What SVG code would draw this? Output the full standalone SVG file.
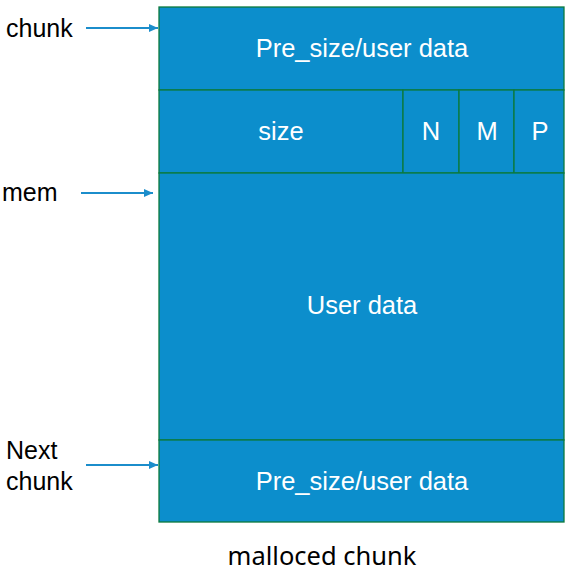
<svg xmlns="http://www.w3.org/2000/svg" width="577" height="572" viewBox="0 0 577 572">
<defs>
<marker id="ah" markerWidth="10" markerHeight="10" refX="9" refY="5" orient="auto" markerUnits="userSpaceOnUse">
<path d="M0,1 L9,5 L0,9 Z" fill="#1B8DCB"/>
</marker>
<style>
.cell{fill:#0C8ECC;stroke:#0B7A3E;stroke-width:1.3}
.in{font-family:"Liberation Sans",Arial,sans-serif;font-size:25.5px;fill:#FFFFFF;text-anchor:middle}
.lbl{font-family:"Liberation Sans",Arial,sans-serif;font-size:25px;fill:#000000}
.arr{stroke:#1B8DCB;stroke-width:2;fill:none;marker-end:url(#ah)}
</style>
</defs>
<rect width="577" height="572" fill="#FFFFFF"/>
<g id="pre_size">
<rect class="cell" x="159" y="7" width="405" height="83"/>
<text class="in" x="362" y="57">Pre_size/user data</text>
</g>
<g id="size">
<rect class="cell" x="159" y="90" width="244" height="83"/>
<text class="in" x="281" y="140">size</text>
</g>
<g id="flag_n">
<rect class="cell" x="403" y="90" width="56" height="83"/>
<text class="in" x="431" y="140">N</text>
</g>
<g id="flag_m">
<rect class="cell" x="459" y="90" width="55" height="83"/>
<text class="in" x="487" y="140">M</text>
</g>
<g id="flag_p">
<rect class="cell" x="514" y="90" width="50" height="83"/>
<text class="in" x="540" y="140">P</text>
</g>
<g id="user_data">
<rect class="cell" x="159" y="173" width="405" height="267"/>
<text class="in" x="362" y="314">User data</text>
</g>
<g id="next_pre_size">
<rect class="cell" x="159" y="440" width="405" height="82"/>
<text class="in" x="362" y="490">Pre_size/user data</text>
</g>
<g id="label_chunk">
<text class="lbl" x="6" y="37">chunk</text>
</g>
<g id="label_mem">
<text class="lbl" x="2" y="201">mem</text>
</g>
<g id="label_next">
<text class="lbl" x="6" y="459">Next</text>
<text class="lbl" x="6" y="490">chunk</text>
</g>
<g id="caption">
<text x="322" y="565" font-family="'Noto Sans','Liberation Sans',sans-serif" font-size="25.5" fill="#000000" text-anchor="middle">malloced chunk</text>
</g>
<g id="connectors">
<line class="arr" x1="86" y1="28" x2="158" y2="28"/>
<line class="arr" x1="81" y1="193" x2="153" y2="193"/>
<line class="arr" x1="86" y1="465" x2="158" y2="465"/>
</g>
</svg>
